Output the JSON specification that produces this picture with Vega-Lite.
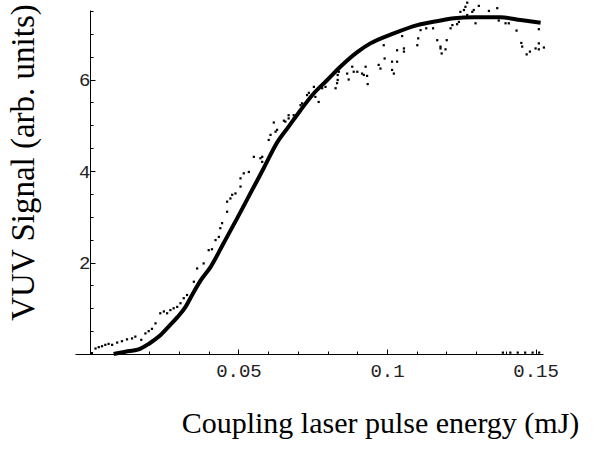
{
  "$schema": "https://vega.github.io/schema/vega-lite/v6.json",
  "width": 468,
  "height": 344,
  "autosize": "none",
  "padding": {"left": 75, "top": 10, "right": 60, "bottom": 99},
  "background": "white",
  "config": {
    "view": {"stroke": null},
    "axis": {"grid": false, "domainColor": "#000", "tickColor": "#000", "labelColor": "#222", "titleColor": "#000", "domainWidth": 1, "tickWidth": 1}
  },
  "datasets": {
    "dots": [
      {"x": 0.0007, "y": 0.02}, {"x": 0.0019, "y": 0.12}, {"x": 0.003, "y": 0.15}, {"x": 0.0041, "y": 0.17}, {"x": 0.0052, "y": 0.2},
      {"x": 0.0063, "y": 0.22}, {"x": 0.0075, "y": 0.2}, {"x": 0.0092, "y": 0.25}, {"x": 0.0108, "y": 0.28}, {"x": 0.0125, "y": 0.32},
      {"x": 0.0142, "y": 0.34}, {"x": 0.0153, "y": 0.38}, {"x": 0.0173, "y": 0.31}, {"x": 0.0187, "y": 0.45}, {"x": 0.0198, "y": 0.5},
      {"x": 0.0209, "y": 0.55}, {"x": 0.0221, "y": 0.67}, {"x": 0.0237, "y": 0.89}, {"x": 0.0249, "y": 0.93}, {"x": 0.026, "y": 0.89},
      {"x": 0.0271, "y": 0.96}, {"x": 0.0282, "y": 1.0}, {"x": 0.0294, "y": 1.03}, {"x": 0.0305, "y": 1.11}, {"x": 0.0316, "y": 1.22},
      {"x": 0.0327, "y": 1.29}, {"x": 0.035, "y": 1.58}, {"x": 0.0361, "y": 1.87}, {"x": 0.0383, "y": 1.98}, {"x": 0.04, "y": 2.27},
      {"x": 0.0411, "y": 2.29}, {"x": 0.0423, "y": 2.49}, {"x": 0.0434, "y": 2.56}, {"x": 0.0439, "y": 2.75}, {"x": 0.0445, "y": 2.86},
      {"x": 0.0462, "y": 3.11}, {"x": 0.0462, "y": 3.33}, {"x": 0.0473, "y": 3.4}, {"x": 0.0479, "y": 3.48}, {"x": 0.049, "y": 3.51},
      {"x": 0.0507, "y": 3.66}, {"x": 0.0507, "y": 3.84}, {"x": 0.0518, "y": 3.95}, {"x": 0.0535, "y": 3.98}, {"x": 0.0552, "y": 4.31},
      {"x": 0.0574, "y": 4.28}, {"x": 0.058, "y": 4.2}, {"x": 0.058, "y": 4.31}, {"x": 0.0602, "y": 4.68}, {"x": 0.0608, "y": 4.79},
      {"x": 0.0619, "y": 5.06}, {"x": 0.0625, "y": 4.86}, {"x": 0.063, "y": 4.9}, {"x": 0.0653, "y": 5.1}, {"x": 0.0658, "y": 5.08},
      {"x": 0.0669, "y": 5.15}, {"x": 0.0669, "y": 5.22}, {"x": 0.0686, "y": 5.22}, {"x": 0.0686, "y": 5.15}, {"x": 0.0709, "y": 5.44},
      {"x": 0.0714, "y": 5.48}, {"x": 0.0731, "y": 5.66}, {"x": 0.0737, "y": 5.71}, {"x": 0.0754, "y": 5.84}, {"x": 0.0759, "y": 5.62},
      {"x": 0.077, "y": 5.51}, {"x": 0.0782, "y": 5.81}, {"x": 0.0793, "y": 5.84}, {"x": 0.0827, "y": 5.81}, {"x": 0.0832, "y": 5.92},
      {"x": 0.0834, "y": 5.99}, {"x": 0.0834, "y": 6.1}, {"x": 0.0838, "y": 6.17}, {"x": 0.0866, "y": 6.13}, {"x": 0.0871, "y": 6.0},
      {"x": 0.0883, "y": 6.28}, {"x": 0.0888, "y": 6.17}, {"x": 0.09, "y": 6.17}, {"x": 0.0916, "y": 6.13}, {"x": 0.0922, "y": 6.1},
      {"x": 0.0928, "y": 6.28}, {"x": 0.0933, "y": 6.08}, {"x": 0.0935, "y": 5.9}, {"x": 0.0972, "y": 6.32}, {"x": 0.0978, "y": 6.24},
      {"x": 0.0989, "y": 6.75}, {"x": 0.0992, "y": 6.46}, {"x": 0.1017, "y": 6.21}, {"x": 0.1023, "y": 6.13}, {"x": 0.1017, "y": 6.39},
      {"x": 0.1034, "y": 6.39}, {"x": 0.1034, "y": 6.64}, {"x": 0.1051, "y": 6.95}, {"x": 0.1057, "y": 6.68}, {"x": 0.1057, "y": 6.61},
      {"x": 0.1102, "y": 6.75}, {"x": 0.1105, "y": 6.9}, {"x": 0.1113, "y": 7.08}, {"x": 0.1132, "y": 7.12}, {"x": 0.1155, "y": 7.12},
      {"x": 0.1169, "y": 6.86}, {"x": 0.118, "y": 6.68}, {"x": 0.118, "y": 6.72}, {"x": 0.1184, "y": 6.57}, {"x": 0.1197, "y": 6.66},
      {"x": 0.1201, "y": 6.86}, {"x": 0.1214, "y": 7.12}, {"x": 0.122, "y": 7.19}, {"x": 0.1236, "y": 7.21}, {"x": 0.1242, "y": 7.26},
      {"x": 0.1247, "y": 7.48}, {"x": 0.1259, "y": 7.52}, {"x": 0.1264, "y": 7.59}, {"x": 0.127, "y": 7.68}, {"x": 0.127, "y": 7.41},
      {"x": 0.1287, "y": 7.48}, {"x": 0.1292, "y": 7.52}, {"x": 0.1298, "y": 7.23}, {"x": 0.1309, "y": 7.61}, {"x": 0.1343, "y": 7.5},
      {"x": 0.1371, "y": 7.56}, {"x": 0.1376, "y": 7.29}, {"x": 0.1399, "y": 7.23}, {"x": 0.141, "y": 7.23}, {"x": 0.1436, "y": 7.07},
      {"x": 0.1452, "y": 6.8}, {"x": 0.1455, "y": 6.72}, {"x": 0.147, "y": 6.55}, {"x": 0.1481, "y": 6.61}, {"x": 0.15, "y": 6.68},
      {"x": 0.1511, "y": 6.66}, {"x": 0.1511, "y": 6.79}, {"x": 0.1511, "y": 7.1}, {"x": 0.1528, "y": 6.7},
      {"x": 0.139, "y": 0.03}, {"x": 0.1415, "y": 0.03}, {"x": 0.144, "y": 0.03}, {"x": 0.1465, "y": 0.03}, {"x": 0.149, "y": 0.03}, {"x": 0.1512, "y": 0.03}
    ],
    "fit": [
      {"x": 0.008, "y": 0.0}, {"x": 0.012, "y": 0.05}, {"x": 0.0164, "y": 0.1}, {"x": 0.0198, "y": 0.22}, {"x": 0.0232, "y": 0.38},
      {"x": 0.0265, "y": 0.6}, {"x": 0.0294, "y": 0.8}, {"x": 0.0322, "y": 1.03}, {"x": 0.0344, "y": 1.29}, {"x": 0.0372, "y": 1.6},
      {"x": 0.0406, "y": 1.9}, {"x": 0.045, "y": 2.42}, {"x": 0.0496, "y": 2.97}, {"x": 0.054, "y": 3.51}, {"x": 0.0585, "y": 4.06},
      {"x": 0.063, "y": 4.62}, {"x": 0.0669, "y": 4.97}, {"x": 0.0709, "y": 5.33}, {"x": 0.0754, "y": 5.7}, {"x": 0.0799, "y": 5.99},
      {"x": 0.0843, "y": 6.28}, {"x": 0.09, "y": 6.6}, {"x": 0.0944, "y": 6.79}, {"x": 0.1023, "y": 7.01}, {"x": 0.1102, "y": 7.19},
      {"x": 0.118, "y": 7.29}, {"x": 0.1225, "y": 7.34}, {"x": 0.1292, "y": 7.36}, {"x": 0.1382, "y": 7.36}, {"x": 0.145, "y": 7.3},
      {"x": 0.1517, "y": 7.24}
    ]
  },
  "layer": [
    {
      "data": {"name": "dots"},
      "mark": {"type": "square", "size": 5, "color": "#000", "opacity": 1},
      "encoding": {
        "x": {
          "field": "x", "type": "quantitative",
          "scale": {"domain": [-0.005, 0.1525], "nice": false, "zero": false},
          "axis": {
            "values": [0.05, 0.1, 0.15], "labelExpr": "datum.value == 0.05 ? '0.05' : datum.value == 0.1 ? '0.1' : '0.15'",
            "tickSize": -5, "labelPadding": 12, "labelFont": "Liberation Mono", "labelFontSize": 19,
            "title": "Coupling laser pulse energy (mJ)", "titleFont": "Liberation Serif", "titleFontSize": 30, "titleFontWeight": "normal",
            "titleX": 305, "titleY": 78, "titleBaseline": "alphabetic", "titleAlign": "center"
          }
        },
        "y": {
          "field": "y", "type": "quantitative",
          "scale": {"domain": [0, 7.52], "nice": false, "zero": false},
          "axis": {
            "values": [2, 4, 6], "offset": -15,
            "tickSize": -5, "labelPadding": 5, "labelFont": "Liberation Mono", "labelFontSize": 19,
            "title": "VUV Signal (arb. units)", "titleFont": "Liberation Serif", "titleFontSize": 33, "titleFontWeight": "normal",
            "titleX": -57, "titleY": 152, "titleBaseline": "alphabetic", "titleAlign": "center", "titleAngle": -90
          }
        }
      }
    },
    {
      "data": {"name": "fit"},
      "mark": {"type": "line", "strokeWidth": 4, "color": "#000", "interpolate": "monotone"},
      "encoding": {
        "x": {
          "field": "x", "type": "quantitative",
          "axis": {
            "orient": "bottom", "values": [0.01, 0.02, 0.03, 0.04, 0.06, 0.07, 0.08, 0.09, 0.11, 0.12, 0.13, 0.14],
            "labels": false, "domain": false, "tickSize": -3, "title": null
          }
        },
        "y": {
          "field": "y", "type": "quantitative",
          "axis": {
            "orient": "left", "offset": -15, "values": [0.5, 1, 1.5, 2.5, 3, 3.5, 4.5, 5, 5.5, 6.5, 7, 7.5],
            "labels": false, "domain": false, "tickSize": -3, "title": null
          }
        }
      }
    }
  ],
  "resolve": {"axis": {"x": "independent", "y": "independent"}}
}
